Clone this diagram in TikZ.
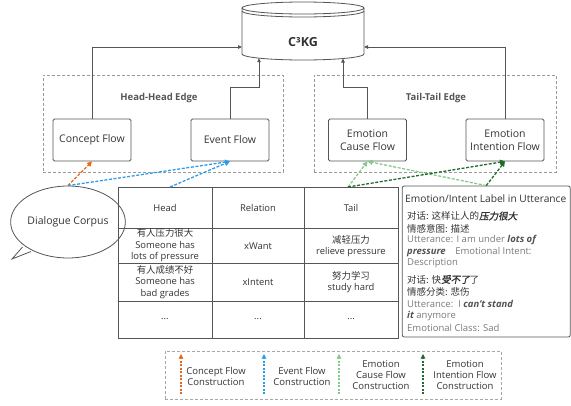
\documentclass[tikz,border=0pt]{standalone}
\usepackage{fontspec}
\setmainfont{Open Sans}
\newfontfamily\cjk{Noto Sans CJK SC}
\newfontfamily\cjkb[FakeSlant=0.2,FakeBold=1.5]{Noto Sans CJK SC}
\usetikzlibrary{arrows.meta,shapes.geometric}
\definecolor{corange}{HTML}{E8651C}
\definecolor{cblue}{HTML}{2D9CEB}
\definecolor{clgreen}{HTML}{86C98A}
\definecolor{cdgreen}{HTML}{1F6B2B}
\definecolor{cline}{HTML}{555555}
\definecolor{ctext}{HTML}{333333}
\definecolor{cgrey}{HTML}{7A7A7A}
\tikzset{
  flowbox/.style={draw=cline, rounded corners=1.5pt, minimum width=78pt, minimum height=42pt, align=center, font=\fontsize{10.5}{12.5}\selectfont, text=ctext, line width=0.8pt, inner sep=1pt},
  groupbox/.style={draw=black!40, dash pattern=on 3pt off 2pt, line width=0.7pt, minimum height=97pt},
  grouplabel/.style={font=\fontsize{9.5}{11}\selectfont\bfseries, text=cline},
  solidarrow/.style={draw=cline, line width=0.8pt, -{Triangle[length=4pt,width=3.5pt]}},
  flowarrow/.style={line width=1.3pt, dash pattern=on 3pt off 1.6pt, -{Triangle[length=5pt,width=5pt]}},
  legarrow/.style={line width=1.3pt, dash pattern=on 2pt off 1.5pt, -{Triangle[length=4.5pt,width=4.5pt]}},
  celltext/.style={align=center, font=\fontsize{9.4}{11.5}\selectfont, text=ctext},
  legtext/.style={align=center, font=\fontsize{9.5}{11}\selectfont, text=ctext},
  labline/.style={anchor=west, inner sep=0pt, font=\fontsize{9.5}{10}\selectfont},
}
\begin{document}
\begin{tikzpicture}[x=1pt,y=-1pt]
\useasboundingbox (0,0) rectangle (571,405);

% cylinder C3KG
\draw[cline, line width=0.8pt, fill=white] (242,8) -- (242,54) arc[start angle=180, end angle=0, x radius=61, y radius=6] -- (364,8);
\draw[cline, line width=0.8pt, fill=white] (303,8) ellipse [x radius=61, y radius=6];
\draw[cline, line width=0.8pt] (242,11) arc[start angle=180, end angle=0, x radius=61, y radius=6];
\node[font=\fontsize{12.5}{14}\selectfont\bfseries, text=ctext] (kg) at (303,42) {C³KG};
\coordinate (kgL) at (242,47);
\coordinate (kgR) at (364,47);
\coordinate (kgB1) at (259,58.2);
\coordinate (kgB2) at (343,58.5);

% group boxes
\node[groupbox, minimum width=240pt] (hh) at (163,123.5) {};
\node[groupbox, minimum width=242pt] (tt) at (435,123.5) {};
\node[grouplabel] (hhl) at (159,98) {Head-Head Edge};
\node[grouplabel] (ttl) at (436,98) {Tail-Tail Edge};

% flow boxes
\node[flowbox] (concept) at (92,140) {Concept Flow};
\node[flowbox] (event) at (230,140) {Event Flow};
\node[flowbox] (cause) at (367.5,140) {Emotion\\Cause Flow};
\node[flowbox] (intent) at (505,140) {Emotion\\Intention Flow};

% arrows to KG
\draw[solidarrow] (concept.north) |- (kgL);
\draw[solidarrow] (event.north) -- ++(0,-31) -| (kgB1);
\draw[solidarrow] (cause.north) -- ++(0,-31) -| (kgB2);
\draw[solidarrow] (intent.north) |- (kgR);

% dialogue corpus bubble
\node[ellipse, draw=cline, line width=0.8pt, minimum width=114pt, minimum height=72pt, inner sep=0pt, font=\fontsize{10.5}{12}\selectfont, text=ctext] (corpus) at (68,222) {Dialogue Corpus};
\coordinate (tip) at (12,259);
\fill[white] (tip) -- (22.5,247) -- (31,251.5) -- cycle;
\draw[cline, line width=0.8pt] (22.5,247) -- (tip) -- (31,251.5);

% table
\node[draw=cline, line width=0.8pt, minimum width=280pt, minimum height=151pt, inner sep=0pt] (tbl) at (258,262.5) {};
\draw[cline, line width=0.8pt] (212,187) -- (212,338) (304,187) -- (304,338)
  (118,228) -- (398,228) (118,263) -- (398,263) (118,301) -- (398,301);
\coordinate (tblh) at (170,187);
\coordinate (tblt) at (348,187);
\node[celltext] (h1) at (165,208) {Head};
\node[celltext] (h2) at (258,208) {Relation};
\node[celltext] (h3) at (351,208) {Tail};
\node[celltext] (r1a) at (165,245.5) {{\cjk 有人压力很大}\\Someone has\\lots of pressure};
\node[celltext] (r1b) at (258,246) {xWant};
\node[celltext] (r1c) at (351,246) {{\cjk 减轻压力}\\relieve pressure};
\node[celltext] (r2a) at (165,282) {{\cjk 有人成绩不好}\\Someone has\\bad grades};
\node[celltext] (r2b) at (258,282) {xIntent};
\node[celltext] (r2c) at (351,282) {{\cjk 努力学习}\\study hard};
\node[celltext] (r3a) at (165,319.5) {...};
\node[celltext] (r3b) at (258,319.5) {...};
\node[celltext] (r3c) at (351,319.5) {...};

% label box
\node[draw=cline, line width=0.8pt, rounded corners=2pt, minimum width=168pt, minimum height=151pt, inner sep=0pt] (lab) at (486.25,261.5) {};
\node[labline, text=ctext, font=\fontsize{10.2}{11}\selectfont] (lt) at (405,199) {Emotion/Intent Label in Utterance};
\node[labline, text=ctext] (l1) at (407,216) {{\cjk 对话: 这样让人的}{\cjkb 压力很大}};
\node[labline, text=ctext] (l2) at (407,229) {{\cjk 情感意图: 描述}};
\node[labline, text=cgrey] (l3) at (407,240.5) {Utterance: I am under {\color{ctext!85}\bfseries\itshape lots of}};
\node[labline, text=cgrey] (l4) at (407,252) {{\color{ctext!85}\bfseries\itshape pressure}\quad Emotional Intent:};
\node[labline, text=cgrey] (l5) at (407,263.5) {Description};
\node[labline, text=ctext] (l6) at (407,279.5) {{\cjk 对话: 快}{\cjkb 受不了}{\cjk 了}};
\node[labline, text=ctext] (l7) at (407,292) {{\cjk 情感分类: 悲伤}};
\node[labline, text=cgrey] (l8) at (407,304) {Utterance:\ \ I {\color{ctext!85}\bfseries\itshape can't stand}};
\node[labline, text=cgrey] (l9) at (407,316) {{\color{ctext!85}\bfseries\itshape it} anymore};
\node[labline, text=cgrey] (l10) at (407,327.5) {Emotional Class: Sad};

% flow construction arrows
\draw[flowarrow, corange] (corpus.north) -- (concept.south);
\draw[flowarrow, cblue] (corpus.north) -- (event.south);
\draw[flowarrow, cblue] (tblh) -- (event.south);
\draw[flowarrow, clgreen] (tblt) -- (cause.south);
\draw[flowarrow, clgreen] (lab.north) -- (cause.south);
\draw[flowarrow, cdgreen] (tblt) -- (intent.south);
\draw[flowarrow, cdgreen] (lab.north) -- (intent.south);

% legend
\node[draw=black!35, dash pattern=on 3pt off 2pt, line width=0.7pt, minimum width=336pt, minimum height=48pt] (leg) at (333,375) {};
\coordinate (a1s) at (181,394); \coordinate (a1e) at (181,354);
\coordinate (a2s) at (264,394); \coordinate (a2e) at (264,354);
\coordinate (a3s) at (339,394); \coordinate (a3e) at (339,354);
\coordinate (a4s) at (423,394); \coordinate (a4e) at (423,354);
\draw[legarrow, corange] (a1s) -- (a1e);
\draw[legarrow, cblue] (a2s) -- (a2e);
\draw[legarrow, clgreen] (a3s) -- (a3e);
\draw[legarrow, cdgreen] (a4s) -- (a4e);
\node[legtext] (t1) at (216,376) {Concept Flow\\Construction};
\node[legtext] (t2) at (302,376) {Event Flow\\Construction};
\node[legtext] (t3) at (381,375) {Emotion\\Cause Flow\\Construction};
\node[legtext] (t4) at (465,375) {Emotion\\Intention Flow\\Construction};
\end{tikzpicture}
\end{document}
